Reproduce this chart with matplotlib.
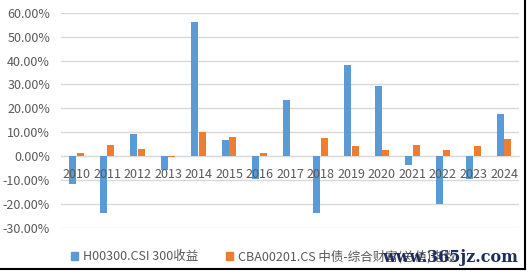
import matplotlib
matplotlib.use('Agg')
import matplotlib.pyplot as plt
from matplotlib.ticker import FuncFormatter, MultipleLocator
from matplotlib.patches import Patch
from matplotlib.lines import Line2D
import numpy as np

plt.rcParams['font.family'] = ['Noto Sans CJK SC', 'DejaVu Sans']

years = ['2010', '2011', '2012', '2013', '2014', '2015', '2016', '2017',
         '2018', '2019', '2020', '2021', '2022', '2023', '2024']
hs300 = [-11.6, -23.8, 9.4, -5.8, 56.0, 6.9, -9.6, 23.5,
         -23.7, 38.1, 29.2, -3.8, -19.9, -9.6, 17.6]
cba = [1.4, 4.8, 3.0, -0.4, 10.3, 8.1, 1.5, 0.3,
       7.8, 4.1, 2.5, 4.5, 2.6, 4.1, 7.1]
label_hs = 'H00300.CSI 300收益'
label_cba = 'CBA00201.CS 中债-综合财富(总值)指数'

BLUE = '#5B9BD5'
ORANGE = '#ED7D31'
GRID = '#D9D9D9'
TEXT = '#595959'

fig = plt.figure(figsize=(5.27, 2.71), dpi=100)
ax = fig.add_axes([61.2 / 527, 1 - 228 / 271, (519.3 - 61.2) / 527, (228 - 12.7) / 271])

x = np.arange(len(years))
w = 0.23
ax.bar(x - 0.125, hs300, w, color=BLUE, zorder=3)
ax.bar(x + 0.125, cba, w, color=ORANGE, zorder=3)

ax.set_xlim(-0.5, len(years) - 0.5)
ax.set_ylim(-30, 60)
ax.yaxis.set_major_locator(MultipleLocator(10))
ax.yaxis.set_major_formatter(FuncFormatter(lambda v, p: '%.2f%%' % v))
ax.grid(axis='y', color=GRID, linewidth=1, zorder=0)
ax.set_axisbelow(True)

for s in ['left', 'right', 'top']:
    ax.spines[s].set_visible(False)
ax.spines['bottom'].set_position(('data', 0))
ax.spines['bottom'].set_color(GRID)
ax.spines['bottom'].set_zorder(2)

# year labels sit just under the zero line, drawn over the bars
ax.set_xticks([])
for xi, yr in zip(x, years):
    ax.annotate(yr, (xi, 0), xytext=(0, -13), textcoords='offset points',
                ha='center', va='center', fontsize=9, color=TEXT, zorder=5)
ax.tick_params(axis='y', length=0, pad=8, labelsize=9, labelcolor=TEXT)

handles = [Patch(color=BLUE, label=label_hs), Patch(color=ORANGE, label=label_cba)]
fig.legend(handles=handles, loc='center', bbox_to_anchor=(0.5, 1 - 256.7 / 271),
           ncol=2, frameon=False, fontsize=9, labelcolor=TEXT,
           handlelength=0.6, handleheight=0.6, handletextpad=0.4, columnspacing=2.2)

fig.text(518 / 527, 1 - 257 / 271, 'www.365jz.com', ha='right', va='center',
         fontsize=11.5, fontweight='bold', color='#1F2D5C', family='DejaVu Serif',
         zorder=10)

# black frame on right and bottom edge
fig.add_artist(Line2D([524.8 / 527, 524.8 / 527], [1 - 269 / 271, 1], color='black',
                      linewidth=1.5, transform=fig.transFigure))
fig.add_artist(Line2D([0, 524.8 / 527], [1 - 269 / 271, 1 - 269 / 271], color='black',
                      linewidth=1.5, transform=fig.transFigure))

fig.savefig('out.png', dpi=100)
